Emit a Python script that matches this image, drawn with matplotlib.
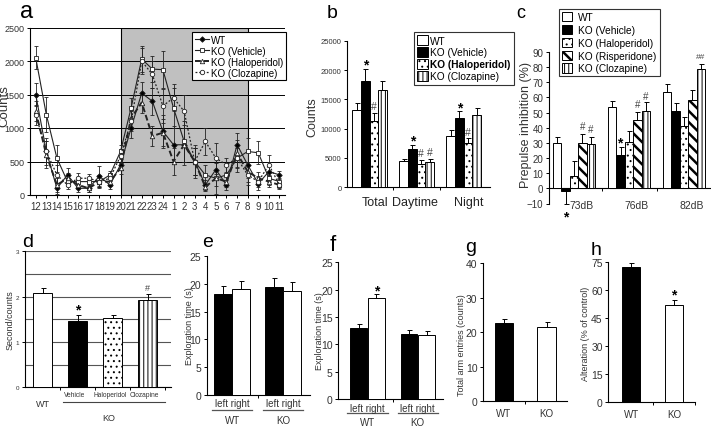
import numpy as np
import matplotlib
matplotlib.use("Agg")
import matplotlib.pyplot as plt
from matplotlib.patches import Patch
from matplotlib.lines import Line2D

plt.rcParams['font.family'] = ['Liberation Sans', 'DejaVu Sans']
plt.rcParams['hatch.color'] = 'black'
plt.rcParams['hatch.linewidth'] = 0.7

W, H = 711, 435

#------------------- data

# a: hourly activity counts
hours = ['12', '13', '14', '15', '16', '17', '18', '19', '20', '21', '22', '23', '24',
         '1', '2', '3', '4', '5', '6', '7', '8', '9', '10', '11']
wt_hourly = [1500, 650, 100, 300, 100, 100, 280, 150, 450, 1000, 1520, 1400, 950,
             750, 750, 500, 150, 380, 150, 750, 450, 170, 350, 300]
wt_hourly_err = [170, 150, 80, 100, 50, 60, 150, 60, 80, 150, 160, 200, 250,
                 280, 300, 200, 80, 150, 80, 170, 200, 100, 150, 60]
veh_hourly = [2050, 1200, 550, 200, 200, 200, 200, 300, 650, 1300, 2030, 1880, 1870,
              1300, 800, 500, 300, 250, 300, 550, 650, 630, 250, 200]
veh_hourly_err = [170, 260, 200, 60, 60, 60, 100, 60, 100, 150, 200, 200, 280,
                  300, 300, 250, 150, 230, 150, 200, 200, 170, 100, 60]
halo_hourly = [1250, 600, 150, 250, 150, 100, 200, 200, 400, 1150, 1380, 880, 930,
               500, 750, 500, 120, 250, 200, 620, 350, 250, 200, 150]
halo_hourly_err = [150, 200, 100, 80, 60, 50, 80, 60, 80, 150, 150, 150, 200,
                   200, 250, 200, 60, 120, 80, 200, 150, 100, 80, 50]
cloz_hourly = [1200, 650, 300, 150, 250, 250, 200, 250, 580, 1100, 2000, 1800, 1330,
               1450, 1250, 500, 800, 550, 450, 550, 300, 200, 450, 150]
cloz_hourly_err = [150, 200, 150, 60, 80, 60, 80, 80, 100, 150, 200, 200, 250,
                   200, 250, 200, 200, 230, 100, 150, 150, 80, 150, 60]

# b: total / daytime / night counts
b_groups = ['Total', 'Daytime', 'Night']
b_wt = [13200, 4400, 8800]
b_wt_err = [1150, 350, 950]
b_veh = [18200, 6500, 11750]
b_veh_err = [1900, 700, 1300]
b_halo = [11350, 3900, 7550]
b_halo_err = [1250, 750, 800]
b_cloz = [16600, 4300, 12300]
b_cloz_err = [1600, 500, 1150]

# c: prepulse inhibition
c_groups = ['73dB', '76dB', '82dB']
c_wt = [30, 53.4, 63.3]
c_wt_err = [4.2, 4.4, 5.5]
c_veh = [-1.8, 21.8, 51.2]
c_veh_err = [8.8, 5.8, 5.3]
c_halo = [8.2, 30.9, 41.3]
c_halo_err = [9.8, 6.8, 6.1]
c_risp = [30, 45, 58]
c_risp_err = [6, 5.7, 6.9]
c_cloz = [29, 51, 79]
c_cloz_err = [5, 5.7, 3.3]

# d: second/counts
d_labels = ['WT', 'Vehicle', 'Haloperidol', 'Clozapine']
d_vals = [2.07, 1.47, 1.52, 1.93]
d_err = [0.12, 0.13, 0.08, 0.13]

# e, f: exploration time, left / right object
geno = ['WT', 'KO']
e_left = [18.1, 19.5]
e_left_err = [1.45, 1.5]
e_right = [19.1, 18.7]
e_right_err = [1.4, 1.7]
f_left = [13.0, 11.9]
f_left_err = [0.75, 0.8]
f_right = [18.4, 11.7]
f_right_err = [0.8, 0.8]

# g, h: Y-maze
g_vals = [22.6, 21.4]
g_err = [1.3, 1.5]
h_vals = [72.3, 52.3]
h_err = [2.2, 2.5]

#------------------- helpers

fig = plt.figure(figsize=(W / 100, H / 100), dpi=100)


def axes_px(left, top, right, bottom):
    return fig.add_axes([left / W, 1 - bottom / H, (right - left) / W, (bottom - top) / H])


BAR = {
    'wt': dict(color='white'),
    'veh': dict(color='black'),
    'halo': dict(color='white', hatch='...'),
    'risp': dict(color='white', hatch='\\\\\\', hlw=1.8),
    'cloz': dict(color='white', hatch='||||'),
}


def draw_bars(ax, x, vals, errs, width, style):
    st = dict(BAR[style])
    hlw = st.pop('hlw', 0.7)
    vals = np.asarray(vals, float)
    errs = np.asarray(errs, float)
    lower = np.where(vals < 0, errs, 0)
    upper = np.where(vals < 0, 0, errs)
    with plt.rc_context({'hatch.linewidth': hlw}):
        bars = ax.bar(x, vals, width, facecolor=st['color'], hatch=st.get('hatch'),
                      edgecolor='black', linewidth=0.7, zorder=3,
                      yerr=[lower, upper],
                      error_kw=dict(ecolor='black', elinewidth=0.7, capsize=1.8,
                                    capthick=0.7, zorder=4))
    for b in bars:
        if hasattr(b, 'set_hatch_linewidth'):
            b.set_hatch_linewidth(hlw)
    return bars


def legend_patch(style, label):
    st = dict(BAR[style])
    hlw = st.pop('hlw', 0.7)
    with plt.rc_context({'hatch.linewidth': hlw}):
        p = Patch(facecolor=st['color'], hatch=st.get('hatch'), edgecolor='black',
                  linewidth=0.7, label=label)
    return p


def fix_legend_hatch(leg, styles):
    for p, s in zip(leg.get_patches(), styles):
        if hasattr(p, 'set_hatch_linewidth'):
            p.set_hatch_linewidth(BAR[s].get('hlw', 0.7))


OFFS = {'*': 0.55, '#': 0.36, '##': 0.36}


def mark(ax, x, y, s, fs=10):
    weight = 'bold' if s == '*' else 'normal'
    ax.annotate(s, xy=(x, y), xytext=(0, -OFFS[s] * fs), textcoords='offset points',
                ha='center', va='baseline', fontsize=fs, fontweight=weight,
                color='black' if s == '*' else '#444', annotation_clip=False)


def simple_axes(ax, tick_fs):
    for s in ('top', 'right'):
        ax.spines[s].set_visible(False)
    for s in ('left', 'bottom'):
        ax.spines[s].set_linewidth(0.8)
    ax.tick_params(axis='y', labelsize=tick_fs, length=2.5, width=0.7, pad=1.5,
                   labelcolor='#333')
    ax.tick_params(axis='x', which='major', length=0)
    ax.tick_params(axis='x', which='minor', length=2.5, width=0.7)


def under_labels(ax, centers, ax_h, sub, below_sub, below_line, below_main, main,
                 half=0.4, sub_fs=7, main_fs=7):
    tr = ax.get_xaxis_transform()
    for c, m in zip(centers, main):
        ax.text(c, -below_sub / ax_h, sub, transform=tr, ha='center', va='center',
                fontsize=sub_fs, color='#333')
        ax.plot([c - half, c + half], [-below_line / ax_h] * 2, transform=tr,
                color='#555', lw=0.9, clip_on=False)
        ax.text(c, -below_main / ax_h, m, transform=tr, ha='center', va='center',
                fontsize=main_fs, color='#333')


#------------------- a

ax = axes_px(30, 28.5, 285, 196)
xa = np.arange(len(hours))
ax.axvspan(8, 20, facecolor='#c0c0c0', edgecolor='black', lw=0.8, zorder=0)
ax.set_axisbelow('line')
ax.yaxis.grid(True, color='black', lw=0.7)
series_a = [
    (wt_hourly, wt_hourly_err, dict(marker='D', ms=2.8, mfc='black', ls='-', lw=0.8), 'WT'),
    (veh_hourly, veh_hourly_err, dict(marker='s', ms=3.2, mfc='white', ls='-', lw=0.8), 'KO (Vehicle)'),
    (halo_hourly, halo_hourly_err, dict(marker='^', ms=3.2, mfc='white', ls=(0, (3, 1.5)), lw=1.4), 'KO (Haloperidol)'),
    (cloz_hourly, cloz_hourly_err, dict(marker='o', ms=3.2, mfc='white', ls=(0, (1.5, 1.5)), lw=0.9), 'KO (Clozapine)'),
]
handles = []
for vals, errs, st, lab in series_a:
    ax.errorbar(xa, vals, yerr=errs, color='#222', mec='#222', mew=0.6,
                ecolor='#222', elinewidth=0.6, capsize=1.2, capthick=0.6, zorder=3, **st)
    handles.append(Line2D([], [], color='#222', mec='#222', mew=0.6, label=lab, **st))
ax.set_xlim(-0.54, 23.52)
ax.set_ylim(0, 2500)
ax.set_yticks(np.arange(0, 2501, 500))
ax.set_xticks(xa, hours)
for s in ('top', 'right'):
    ax.spines[s].set_visible(False)
ax.tick_params(axis='y', labelsize=6.5, length=2.5, width=0.7, pad=1.5, labelcolor='#333')
ax.tick_params(axis='x', labelsize=7, length=2.5, width=0.7, pad=1.5, labelcolor='#333')
leg = ax.legend(handles=handles, loc='upper right', bbox_to_anchor=(1.004, 0.972),
                borderaxespad=0, fontsize=7, handlelength=1.5, handletextpad=0.2,
                labelspacing=0.1, borderpad=0.25, fancybox=False, framealpha=1,
                edgecolor='black')
leg.get_frame().set_linewidth(0.8)
leg.set_zorder(10)
fig.text(4 / W, 1 - 106 / H, 'Counts', rotation=90, ha='center', va='center', fontsize=9.5, color='#333')

#------------------- b

ax = axes_px(347, 41.7, 490, 188.3)
xb = np.arange(len(b_groups))
wb = 0.183
for i, (v, e, s) in enumerate([(b_wt, b_wt_err, 'wt'), (b_veh, b_veh_err, 'veh'),
                               (b_halo, b_halo_err, 'halo'), (b_cloz, b_cloz_err, 'cloz')]):
    draw_bars(ax, xb + (i - 1.5) * wb, v, e, wb, s)
ax.set_xlim(-0.48, 2.56)
ax.set_ylim(0, 25000)
ax.set_yticks(np.arange(0, 25001, 5000))
ax.set_xticks([])
ax.set_xticks([0.5, 1.5], minor=True)
simple_axes(ax, 5.5)
tr = ax.get_xaxis_transform()
for gx, lab in zip([0.12, 0.97, 2.1], b_groups):
    ax.text(gx, -15 / 146.6, lab, transform=tr, ha='center', va='center', fontsize=9, color='#222')
for gx, gy in zip(xb, [21590, 8530, 14200]):
    mark(ax, gx - 0.5 * wb, gy, '*', 10)
mark(ax, 0 + 0.5 * wb, 13910, '#', 7.5)
mark(ax, 1 + 0.5 * wb, 5970, '#', 7.5)
mark(ax, 1 + 1.5 * wb, 6140, '#', 7.5)
mark(ax, 2 + 0.5 * wb, 9550, '#', 7.5)
b_styles = ['wt', 'veh', 'halo', 'cloz']
leg = ax.legend(handles=[legend_patch(s, l) for s, l in
                         zip(b_styles, ['WT', 'KO (Vehicle)', 'KO (Haloperidol)', 'KO (Clozapine)'])],
                loc='upper left', bbox_to_anchor=((414 - 347) / 143, (188.3 - 33) / 146.6),
                borderaxespad=0, fontsize=7.3, handlelength=1.1, handleheight=1.15,
                handletextpad=0.2, labelspacing=0.15, borderpad=0.3, fancybox=False,
                framealpha=1, edgecolor='#333')
leg.get_frame().set_linewidth(0.8)
leg.get_texts()[2].set_fontweight('bold')
fix_legend_hatch(leg, b_styles)
fig.text(312.5 / W, 1 - 117 / H, 'Counts', rotation=90, ha='center', va='center', fontsize=9, color='#333')

#------------------- c

ax = axes_px(549, 53, 711, 204.5)
xc = np.arange(len(c_groups))
wc = 0.153
c_series = [(c_wt, c_wt_err, 'wt'), (c_veh, c_veh_err, 'veh'), (c_halo, c_halo_err, 'halo'),
            (c_risp, c_risp_err, 'risp'), (c_cloz, c_cloz_err, 'cloz')]
for i, (v, e, s) in enumerate(c_series):
    draw_bars(ax, xc + (i - 2) * wc, v, e, wc, s)
ax.set_xlim(-0.455, 2.49)
ax.set_ylim(-10, 90)
ax.set_yticks(np.arange(-10, 91, 10))
ax.set_xticks([])
ax.set_xticks([0.5, 1.5], minor=True)
simple_axes(ax, 7)
ax.spines['bottom'].set_position(('data', 0))
for gx, lab in zip(xc, c_groups):
    ax.text(gx + 0.13, -11.2, lab, ha='center', va='center', fontsize=7.5, color='#333')
mark(ax, 0 - 1 * wc, -16, '*', 10)
mark(ax, 1 - 1 * wc - 0.02, 32.5, '*', 10)
mark(ax, 0 + 1 * wc, 41.7, '#', 7)
mark(ax, 0 + 2 * wc, 39.5, '#', 7)
mark(ax, 1 + 1 * wc, 56, '#', 7)
mark(ax, 1 + 2 * wc, 61.5, '#', 7)
mark(ax, 2 + 2 * wc, 88, '##', 6)
c_styles = ['wt', 'veh', 'halo', 'risp', 'cloz']
leg = ax.legend(handles=[legend_patch(s, l) for s, l in
                         zip(c_styles, ['WT', 'KO (Vehicle)', 'KO (Haloperidol)',
                                        'KO (Risperidone)', 'KO (Clozapine)'])],
                loc='upper left', bbox_to_anchor=((559 - 549) / 162, (204.5 - 10) / 151.5),
                borderaxespad=0, fontsize=7.3, handlelength=1.0, handleheight=1.0,
                handletextpad=0.6, labelspacing=0.28, borderpad=0.3, fancybox=False,
                framealpha=1, edgecolor='#333')
leg.get_frame().set_linewidth(0.8)
fix_legend_hatch(leg, c_styles)
fig.text(525.7 / W, 1 - 125 / H, 'Prepulse inhibition (%)', rotation=90, ha='center',
         va='center', fontsize=9, color='#333')

#------------------- d

ax = axes_px(25, 252.3, 171, 388.3)
xd = np.arange(len(d_labels))
wd = 0.557
for i, s in enumerate(['wt', 'veh', 'halo', 'cloz']):
    draw_bars(ax, [xd[i]], [d_vals[i]], [d_err[i]], wd, s)
ax.set_xlim(-0.5, 3.67)
ax.set_ylim(0, 3)
ax.set_yticks([0, 1, 2, 3])
ax.set_yticks(np.arange(0.5, 3.01, 0.5), minor=True)
ax.set_axisbelow(True)
ax.yaxis.grid(True, which='both', color='#555', lw=0.8)
ax.tick_params(axis='y', which='minor', length=0)
ax.set_xticks([])
ax.set_xticks([0.5, 1.5, 2.5, 3.5], minor=True)
simple_axes(ax, 4.5)
ax.set_ylabel('Second/counts', fontsize=6.5, color='#333', labelpad=1)
tr = ax.get_xaxis_transform()
hd = 136.0
ax.text(0, -16 / hd, 'WT', transform=tr, ha='center', va='center', fontsize=6.5, color='#333')
for gx, lab in zip(xd[1:], d_labels[1:]):
    ax.text(gx - 0.08, -7.5 / hd, lab, transform=tr, ha='center', va='center', fontsize=4.8, color='#333')
ax.plot([0.59, 3.5], [-15 / hd] * 2, transform=tr, color='#444', lw=0.8, clip_on=False)
ax.text(1.9, -30 / hd, 'KO', transform=tr, ha='center', va='center', fontsize=6.5, color='#333')
mark(ax, 1, 1.8, '*', 10)
mark(ax, 3, 2.22, '#', 6.5)

#------------------- e

ax = axes_px(206.7, 257.3, 310, 395.7)
xe = np.arange(len(geno))
we = 0.353
draw_bars(ax, xe - we / 2, e_left, e_left_err, we, 'veh')
draw_bars(ax, xe + we / 2, e_right, e_right_err, we, 'wt')
ax.set_xlim(-0.5, 1.53)
ax.set_ylim(0, 25)
ax.set_yticks(np.arange(0, 26, 5))
ax.set_xticks([])
ax.set_xticks([0.5], minor=True)
simple_axes(ax, 7.5)
under_labels(ax, xe, 138.4, 'left right', 8.3, 15, 25.3, geno)
fig.text(189.5 / W, 1 - 326 / H, 'Exploration time (s)', rotation=90, ha='center',
         va='center', fontsize=6.5, color='#333')

#------------------- f

ax = axes_px(338.3, 263.3, 443.3, 400)
draw_bars(ax, xe - we / 2, f_left, f_left_err, 0.33, 'veh')
draw_bars(ax, xe + we / 2, f_right, f_right_err, 0.33, 'wt')
ax.set_xlim(-0.58, 1.51)
ax.set_ylim(0, 25)
ax.set_yticks(np.arange(0, 26, 5))
ax.set_xticks([])
ax.set_xticks([0.5], minor=True)
simple_axes(ax, 7.5)
under_labels(ax, xe, 136.7, 'left right', 9, 14, 23, geno)
mark(ax, 0 + we / 2, 20.5, '*', 10)
fig.text(319 / W, 1 - 331 / H, 'Exploration time (s)', rotation=90, ha='center',
         va='center', fontsize=6.5, color='#333')

#------------------- g

ax = axes_px(483, 264.3, 567, 402.3)
draw_bars(ax, [0], g_vals[:1], g_err[:1], 0.435, 'veh')
draw_bars(ax, [1], g_vals[1:], g_err[1:], 0.435, 'wt')
ax.set_xlim(-0.49, 1.48)
ax.set_ylim(0, 40)
ax.set_yticks(np.arange(0, 41, 10))
ax.set_xticks(xe, geno)
ax.set_xticks([0.5], minor=True)
simple_axes(ax, 7.5)
ax.tick_params(axis='x', labelsize=7, pad=5, labelcolor='#333')
fig.text(461 / W, 1 - 345 / H, 'Total arm entries (counts)', rotation=90, ha='center',
         va='center', fontsize=6.5, color='#333')

#------------------- h

ax = axes_px(608.3, 263.3, 695, 403.3)
draw_bars(ax, [0], h_vals[:1], h_err[:1], 0.42, 'veh')
draw_bars(ax, [1], h_vals[1:], h_err[1:], 0.42, 'wt')
ax.set_xlim(-0.53, 1.49)
ax.set_ylim(0, 75)
ax.set_yticks(np.arange(0, 76, 15))
ax.set_xticks(xe, geno)
ax.set_xticks([0.5, 1.49], minor=True)
simple_axes(ax, 7.5)
ax.tick_params(axis='x', labelsize=7, pad=5, labelcolor='#333')
mark(ax, 1, 59.6, '*', 10)
fig.text(586 / W, 1 - 333.5 / H, 'Alteration (% of control)', rotation=90, ha='center',
         va='center', fontsize=6.5, color='#333')

#------------------- panel letters

for lx, ly, letter, fs in [(20, 18, 'a', 17), (327, 18, 'b', 14), (516, 18, 'c', 13),
                           (22, 247, 'd', 14), (202, 247, 'e', 14), (330, 251, 'f', 16),
                           (465, 252, 'g', 14), (591, 255, 'h', 14)]:
    fig.text(lx / W, 1 - ly / H, letter, fontsize=fs, ha='left', va='baseline')

fig.savefig('out.png', dpi=100)
